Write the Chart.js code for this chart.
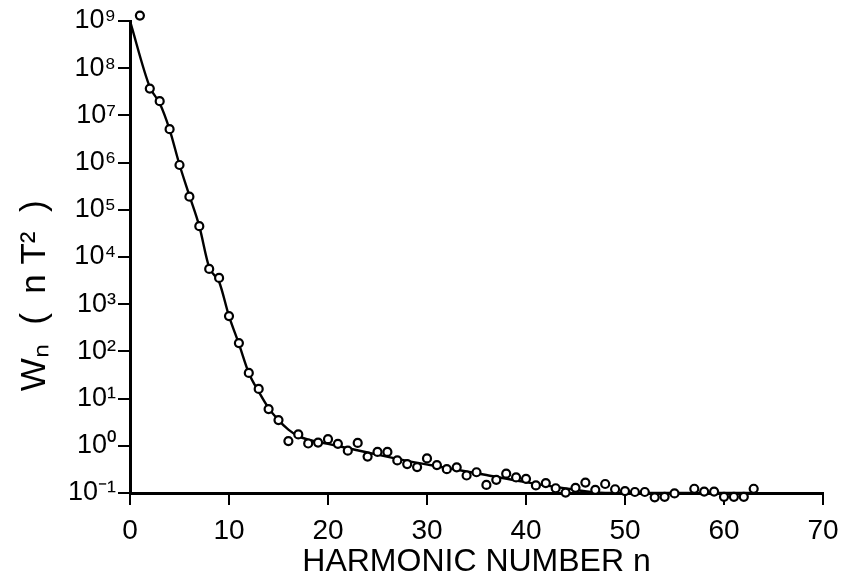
<!DOCTYPE html>
<html>
<head>
<meta charset="utf-8">
<script src="https://cdn.jsdelivr.net/npm/chart.js@4/dist/chart.umd.min.js"></script>
<style>
  html, body { margin: 0; padding: 0; background: #fff; }
</style>
</head>
<body>
<canvas id="chart" width="842" height="583"></canvas>
<script>
// measured harmonics (no circle visible at n = 56)
const harmonics = [
  1, 2, 3, 4, 5, 6, 7, 8, 9, 10, 11, 12, 13, 14, 15, 16, 17, 18, 19, 20,
  21, 22, 23, 24, 25, 26, 27, 28, 29, 30, 31, 32, 33, 34, 35, 36, 37, 38, 39, 40,
  41, 42, 43, 44, 45, 46, 47, 48, 49, 50, 51, 52, 53, 54, 55, 57, 58, 59, 60, 61, 62, 63
];
// W_n in nT^2
const power = [
  1.3e9, 3.7e7, 2.0e7, 5.1e6, 8.9e5, 1.9e5, 4.5e4, 5.6e3, 3.6e3, 5.6e2,
  1.5e2, 35, 16, 6.0, 3.5, 1.26, 1.74, 1.12, 1.17, 1.38,
  1.10, 0.79, 1.15, 0.59, 0.74, 0.74, 0.49, 0.41, 0.355, 0.54,
  0.39, 0.32, 0.35, 0.235, 0.275, 0.148, 0.19, 0.257, 0.214, 0.20,
  0.145, 0.162, 0.126, 0.102, 0.129, 0.166, 0.117, 0.155, 0.12, 0.11,
  0.105, 0.105, 0.081, 0.083, 0.098, 0.123, 0.107, 0.107, 0.083, 0.083, 0.083, 0.123
];
// smooth curve drawn through the points
const fitN = [0, 2, 3, 4, 5, 6, 7, 8, 9, 10, 11, 12, 13, 14, 15, 16, 17, 18, 20, 24, 28, 32, 36, 40, 44, 48, 63];
const fitW = [1e9, 4e7, 1.8e7, 5e6, 9e5, 2e5, 4.5e4, 6e3, 3e3, 5.6e2, 1.45e2, 35, 14, 6.3, 3.5, 2.2, 1.6, 1.35, 1.1, 0.72, 0.48, 0.34, 0.24, 0.17, 0.125, 0.1, 0.1];

const xTicks = [0, 10, 20, 30, 40, 50, 60, 70];
const yExponents = [-1, 0, 1, 2, 3, 4, 5, 6, 7, 8, 9];

const SUP = { '0': '⁰', '1': '¹', '2': '²', '3': '³', '4': '⁴', '5': '⁵', '6': '⁶', '7': '⁷', '8': '⁸', '9': '⁹', '-': '⁻' };
const sup = s => String(s).split('').map(c => SUP[c]).join('');

const font = 'Liberation Sans';
const pad = '\u00a0'.repeat(8); // nudges the rotated title down the axis, as in the original

new Chart(document.getElementById('chart'), {
  type: 'scatter',
  data: {
    datasets: [
      {
        label: 'W_n',
        data: harmonics.map((n, i) => ({ x: n, y: power[i] })),
        showLine: false,
        pointRadius: 4,
        pointBorderWidth: 2.2,
        pointBackgroundColor: '#fff',
        pointBorderColor: '#000',
        clip: false,
        order: 1
      },
      {
        label: 'fit',
        data: fitN.map((n, i) => ({ x: n, y: fitW[i] })),
        showLine: true,
        borderColor: '#000',
        borderWidth: 2.4,
        pointRadius: 0,
        tension: 0.3,
        cubicInterpolationMode: 'monotone',
        order: 2
      }
    ]
  },
  options: {
    responsive: false,
    animation: false,
    layout: { padding: { top: 21, right: 0, left: 0, bottom: 0 } },
    plugins: {
      legend: { display: false },
      tooltip: { enabled: false }
    },
    scales: {
      x: {
        type: 'linear',
        min: 0,
        max: 70,
        afterBuildTicks: s => { s.ticks = xTicks.map(v => ({ value: v })); },
        afterFit: s => { s.height = 90; s.paddingRight = 19; },
        border: { color: '#000', width: 3 },
        grid: { drawOnChartArea: false, color: '#000', lineWidth: 2, tickLength: 12 },
        ticks: { color: '#000', font: { family: font, size: 28 }, padding: 9, maxRotation: 0 },
        title: {
          display: true,
          text: 'HARMONIC NUMBER n',
          color: '#000',
          font: { family: font, size: 32 },
          padding: { top: 0, bottom: 2 }
        }
      },
      y: {
        type: 'logarithmic',
        min: 0.1,
        max: 1e9,
        afterBuildTicks: s => { s.ticks = yExponents.map(e => ({ value: Math.pow(10, e) })); },
        afterFit: s => { s.width = 130; },
        border: { color: '#000', width: 3 },
        grid: { drawOnChartArea: false, color: '#000', lineWidth: 2, tickLength: 12 },
        ticks: {
          color: '#000',
          font: { family: font, size: 27 },
          padding: 2,
          callback: v => '10' + sup(Math.round(Math.log10(v)))
        },
        title: {
          display: true,
          text: 'Wₙ\u00a0\u00a0(\u00a0\u00a0n\u00a0T²\u00a0\u00a0)' + pad,
          color: '#000',
          font: { family: font, size: 35 },
          padding: { top: 14, bottom: 0 }
        }
      }
    }
  }
});
</script>
</body>
</html>
